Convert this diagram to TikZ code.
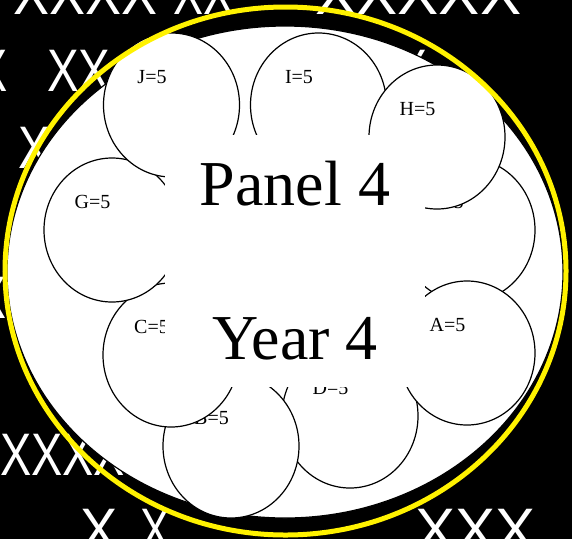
\documentclass[tikz,border=0pt]{standalone}
\usepackage{graphicx}
\usepackage{fontspec}
\setmainfont{Liberation Serif}
\newfontfamily\crossfont{Liberation Sans}
\usetikzlibrary{shapes.geometric}

\newcommand{\xrun}[2]{\scalebox{#1}[1]{#2}}

\tikzset{
  ball/.style={ellipse, draw, fill=white, line width=1.2pt, minimum width=136pt, minimum height=144pt, inner sep=0pt},
  tag/.style={font=\fontsize{20}{20}\selectfont, inner sep=0pt},
  cross/.style={anchor=base west, text=white, inner sep=0pt, font=\crossfont\fontsize{60}{60}\selectfont},
  caption/.style={fill=white, align=center, inner sep=0pt, minimum width=260pt, minimum height=252pt, font=\fontsize{64}{154}\selectfont}
}

\begin{document}
\begin{tikzpicture}[x=1pt,y=-1pt]
\fill[black] (0,0) rectangle (572,539);
\useasboundingbox (0,0) rectangle (572,539);

% crosses behind the panel
\node[cross] (x1) at (13,14) {\xrun{0.9}{XXXX}};
\node[cross] (x2) at (173,14) {\xrun{0.75}{XX}};
\node[cross] (x3) at (315,14) {\xrun{1.03}{XXXXX}};
\node[cross] (x4) at (-24,91) {\xrun{0.78}{X}};
\node[cross] (x5) at (47,91) {\xrun{0.79}{XX}};
\node[cross] (x6) at (395,91) {\xrun{0.8}{X}};
\node[cross] (x7) at (18,168) {\xrun{0.8}{X}};
\node[cross] (x8) at (-26,318) {\xrun{0.8}{X}};
\node[cross] (x9) at (0,475) {\xrun{0.78}{XXXX}};
\node[cross] (x10) at (80,550) {\xrun{0.93}{X}};
\node[cross] (x11) at (140,550) {\xrun{0.75}{X}};
\node[cross] (x12) at (415,550) {\xrun{1.0}{XXX}};

\draw[fill=white, line width=1.2pt] (285,272) ellipse [x radius=278, y radius=246];

\node[ball] (d) at (350,416) {};
\node[tag] (dl) at ([xshift=-19.5pt, yshift=28pt]d.center) {D=5};
\node[ball] (b) at (231,446) {};
\node[tag] (bl) at ([xshift=-19.5pt, yshift=28pt]b.center) {B=5};
\node[ball] (c) at (171,355) {};
\node[tag] (cl) at ([xshift=-19.5pt, yshift=28pt]c.center) {C=5};
\node[ball] (g) at (112,230) {};
\node[tag] (gl) at ([xshift=-19.5pt, yshift=28pt]g.center) {G=5};
\node[ball] (j) at (171.5,105) {};
\node[tag] (jl) at ([xshift=-19.5pt, yshift=28pt]j.center) {J=5};
\node[ball] (i) at (318.5,105) {};
\node[tag] (il) at ([xshift=-19.5pt, yshift=28pt]i.center) {I=5};
\node[ball] (f) at (467,230) {};
\node[tag] (fl) at ([xshift=-19.5pt, yshift=28pt]f.center) {F=5};
\node[ball] (h) at (437,137) {};
\node[tag] (hl) at ([xshift=-19.5pt, yshift=28pt]h.center) {H=5};
\node[ball] (a) at (467,353) {};
\node[tag] (al) at ([xshift=-19.5pt, yshift=28pt]a.center) {A=5};

\node[caption] (title) at (295,261) {Panel 4\\Year 4};

\draw[yellow, line width=5pt] (285.5,271) ellipse [x radius=280.5, y radius=264];
\end{tikzpicture}
\end{document}
